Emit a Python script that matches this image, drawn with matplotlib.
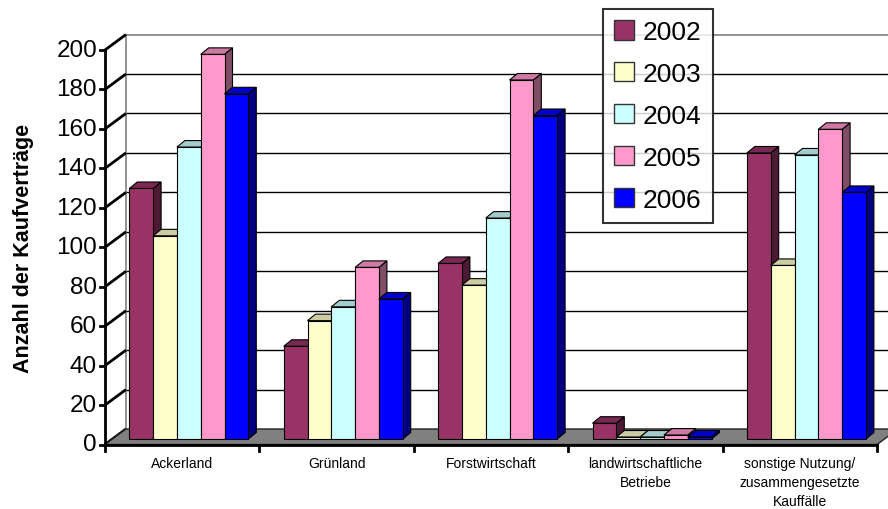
import matplotlib
matplotlib.use('Agg')
import matplotlib.pyplot as plt
from matplotlib.patches import Polygon, Patch
from matplotlib.colors import to_rgb

plt.rcParams['font.family'] = ['Liberation Sans', 'DejaVu Sans']

categories = ['Ackerland', 'Grünland', 'Forstwirtschaft',
              'landwirtschaftliche\nBetriebe',
              'sonstige Nutzung/\nzusammengesetzte\nKauffälle']
years = ['2002', '2003', '2004', '2005', '2006']
v2002 = [127, 47, 89, 8, 145]
v2003 = [103, 60, 78, 1, 88]
v2004 = [148, 67, 112, 1, 144]
v2005 = [195, 87, 182, 2, 157]
v2006 = [175, 71, 164, 1, 125]
series = [v2002, v2003, v2004, v2005, v2006]
colors = ['#993366', '#FFFFCC', '#CCFFFF', '#FF99CC', '#0000FF']
yticks = list(range(0, 201, 20))

W, H = 888, 510
fig = plt.figure(figsize=(W / 100, H / 100), dpi=100)
# front plane of the 3d box: x 0..5 categories, y 0..200
x0px, x1px, y0px, y1px = 105, 877, 445.5, 51
ax = fig.add_axes([x0px / W, 1 - y0px / H, (x1px - x0px) / W, (y0px - y1px) / H])
ax.set_xlim(0, len(categories))
ax.set_ylim(0, 200)
ax.axis('off')

pxx = (x1px - x0px) / len(categories)   # px per category
pxy = (y0px - y1px) / 200.0             # px per value unit

# oblique depth offsets (data units)
wdx, wdy = 21 / pxx, 15.5 / pxy        # floor / wall depth
bfx, bfy = 6.6 / pxx, 5.5 / pxy        # bar front face offset
bdx, bdy = 8 / pxx, 6.5 / pxy          # bar depth
bw = 23.8 / pxx
pad = 17.7 / pxx

n = len(categories)
xr = n + 0.2

# back wall gridlines
for t in yticks[1:-1]:
    ax.plot([wdx, xr], [t + wdy, t + wdy], color='black', lw=1, zorder=1, clip_on=False)
ax.plot([wdx, xr], [200 + wdy, 200 + wdy], color='#808080', lw=1.2, zorder=1, clip_on=False)
ax.plot([wdx, wdx], [wdy, 200 + wdy], color='#808080', lw=1.2, zorder=1, clip_on=False)

# side wall lines
for t in yticks:
    ax.plot([0, wdx], [t, t + wdy], color='black', lw=2, zorder=2, clip_on=False,
            solid_capstyle='butt')

# floor
ax.add_patch(Polygon([(0, 0), (n, 0), (n + wdx, wdy), (wdx, wdy)], closed=True,
                     facecolor='#808080', edgecolor='#202020', lw=1, zorder=2, clip_on=False))

# axes lines and ticks
ax.plot([0, 0], [0, 200], color='black', lw=2, zorder=6, clip_on=False)
ax.plot([0, n], [0, 0], color='black', lw=2, zorder=6, clip_on=False)
for t in yticks:
    ax.plot([-5 / pxx, 0], [t, t], color='black', lw=2, zorder=6, clip_on=False)
    ax.text(-8 / pxx, t, str(t), ha='right', va='center', fontsize=17.5, zorder=6)
for i in range(n + 1):
    ax.plot([i, i], [0, -6 / pxy], color='black', lw=2, zorder=6, clip_on=False)


def shade(c, f):
    r, g, b = to_rgb(c)
    return (r * f, g * f, b * f)


# bars
for i in range(n):
    for j, vals in enumerate(series):
        h = vals[i]
        c = colors[j]
        x = i + pad + j * bw + bfx
        y = bfy
        side = [(x + bw, y), (x + bw + bdx, y + bdy), (x + bw + bdx, y + h + bdy), (x + bw, y + h)]
        top = [(x, y + h), (x + bw, y + h), (x + bw + bdx, y + h + bdy), (x + bdx, y + h + bdy)]
        front = [(x, y), (x + bw, y), (x + bw, y + h), (x, y + h)]
        z = 3 + i * 0.1 + j * 0.01
        ax.add_patch(Polygon(side, closed=True, facecolor=shade(c, 0.5), edgecolor='black',
                             lw=0.8, zorder=z, clip_on=False))
        ax.add_patch(Polygon(top, closed=True, facecolor=shade(c, 0.8), edgecolor='black',
                             lw=0.8, zorder=z, clip_on=False))
        ax.add_patch(Polygon(front, closed=True, facecolor=c, edgecolor='black',
                             lw=0.8, zorder=z, clip_on=False))

# category labels
for i, lab in enumerate(categories):
    ax.text(i + 0.5, -11.5 / pxy, lab, ha='center', va='top', fontsize=10,
            linespacing=1.45, zorder=6)

fig.text(23 / W, 1 - 248 / H, 'Anzahl der Kaufverträge', rotation=90, ha='center',
         va='center', fontsize=15.5, fontweight='bold')

handles = [Patch(facecolor=c, edgecolor='#333333', label=y) for c, y in zip(colors, years)]
leg = fig.legend(handles=handles, loc='upper left', bbox_to_anchor=(603 / W, 1 - 10 / H),
                 frameon=True, fancybox=False, fontsize=19, handlelength=0.75,
                 handleheight=0.75, handletextpad=0.35, labelspacing=0.68, borderpad=0.42,
                 borderaxespad=0)
leg.get_frame().set_edgecolor('black')
leg.get_frame().set_linewidth(1.5)
leg.set_zorder(20)

fig.savefig('out.png', dpi=100)
